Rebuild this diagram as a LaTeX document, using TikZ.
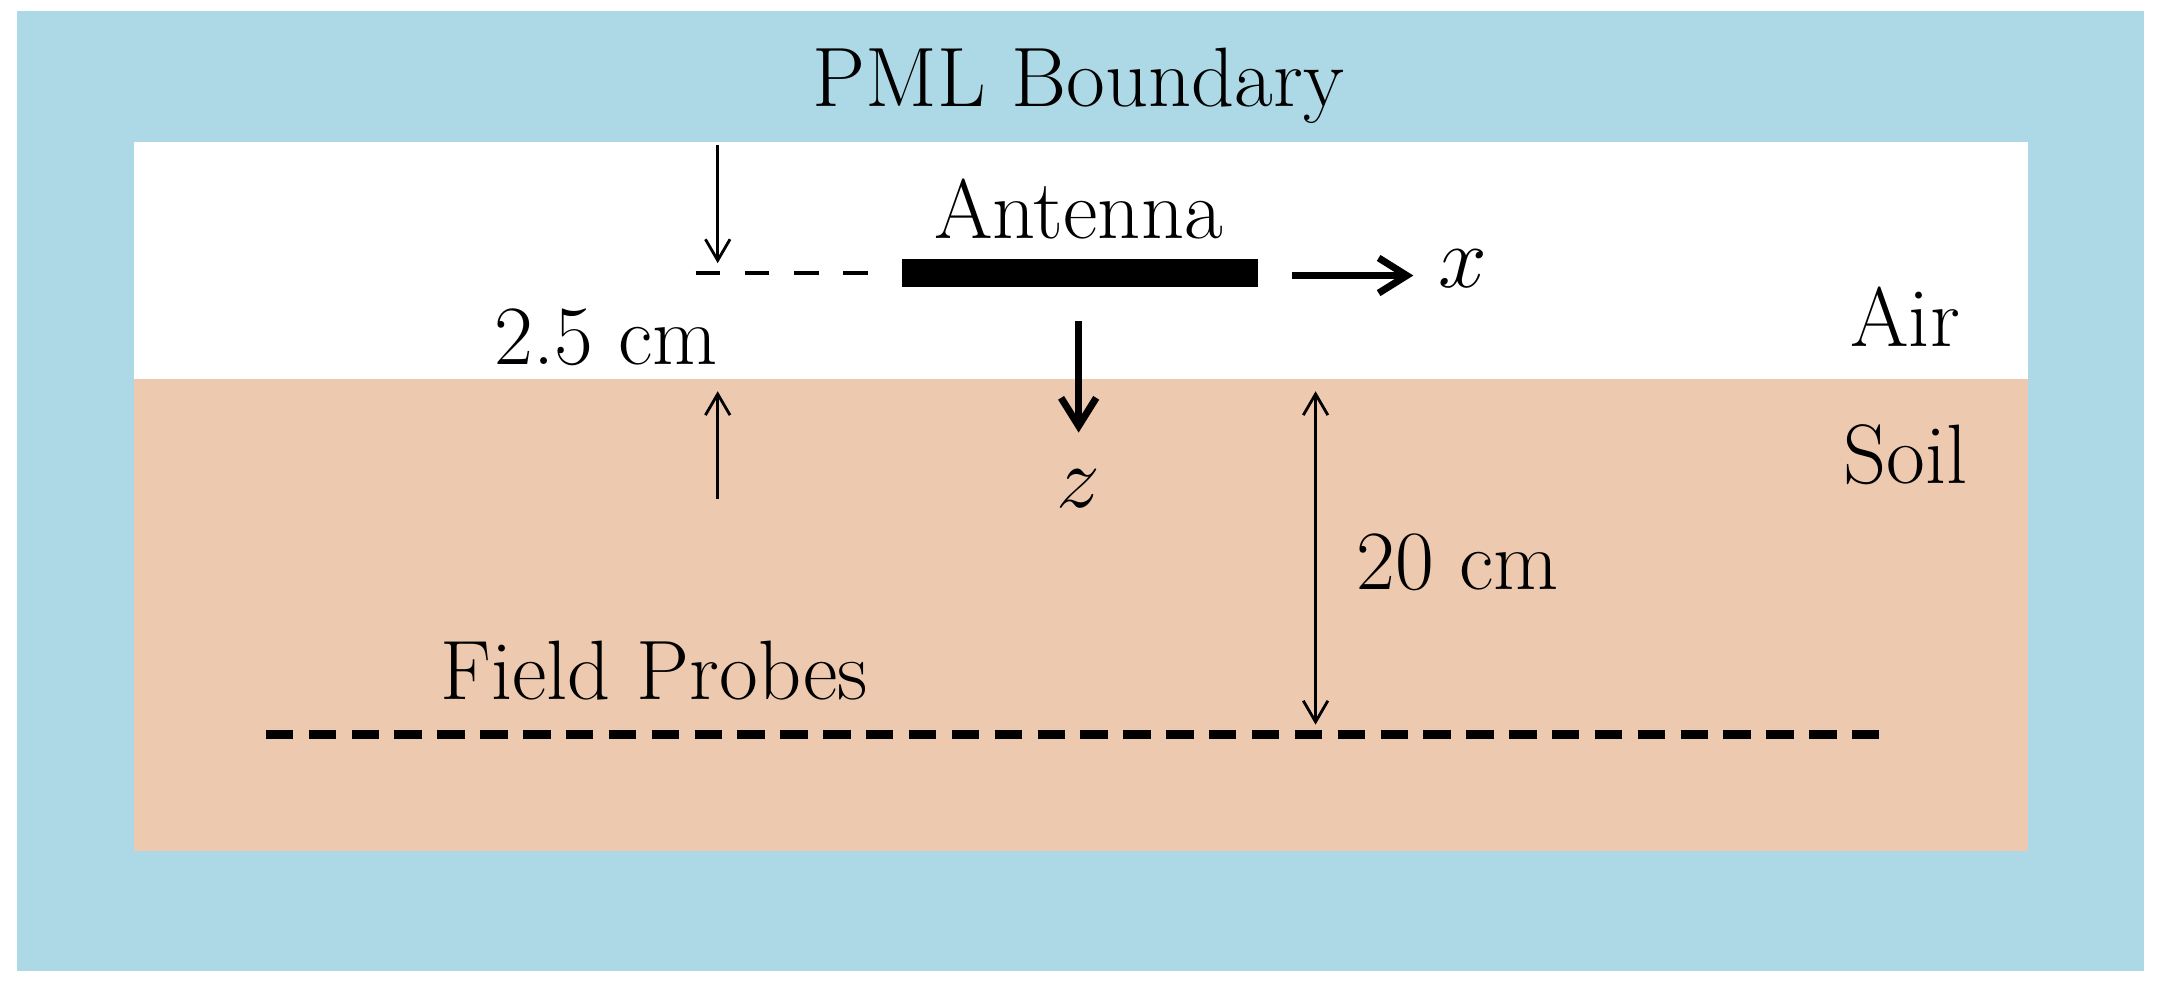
\documentclass[tikz,border=0pt]{standalone}
\usetikzlibrary{arrows.meta}
\definecolor{pml}{HTML}{ADD8E6}
\definecolor{soil}{HTML}{EDC9AF}
\begin{document}
\begin{tikzpicture}[x=0.013776cm,y=-0.013776cm,
  lbl/.style={font=\fontsize{24}{28}\selectfont,inner sep=0pt},
  thin arrow/.style={-{Straight Barb[length=6pt,width=7pt]},line width=0.8pt},
  thick arrow/.style={-{Straight Barb[length=8pt,width=10pt]},line width=2pt}]
\useasboundingbox (0,0) rectangle (1568,720);
\fill[pml] (12,8) rectangle (1556,705);
\fill[white] (97,103) rectangle (1472,275);
\fill[soil] (97,275) rectangle (1472,618);
\node[lbl] (pml) at (783,62) {PML Boundary};
\node[lbl] (ant) at (783,152) {Antenna};
\node[fill=black,minimum width=3.554cm,minimum height=0.2755cm,inner sep=0pt,outer sep=0pt] (bar) at (784,198) {};
\coordinate (d1) at (505,198); \coordinate (d2) at (632,198);
\draw[line width=1pt,dash pattern=on 7pt off 7pt] (d1) -- (d2);
\coordinate (a1) at (521,105); \coordinate (a2) at (521,191);
\draw[thin arrow] (a1) -- (a2);
\coordinate (b1) at (521,362); \coordinate (b2) at (521,284);
\draw[thin arrow] (b1) -- (b2);
\node[lbl] (cm25) at (440,245) {2.5 cm};
\coordinate (x1) at (938,200); \coordinate (x2) at (1026,200);
\draw[thick arrow] (x1) -- (x2);
\node[lbl] (xl) at (1062,195) {$x$};
\coordinate (z1) at (783,233); \coordinate (z2) at (783,314);
\draw[thick arrow] (z1) -- (z2);
\node[lbl] (zl) at (783,355) {$z$};
\node[lbl] (air) at (1383,230) {Air};
\node[lbl] (soilt) at (1383,330) {Soil};
\coordinate (t1) at (955,284); \coordinate (t2) at (955,526);
\draw[{Straight Barb[length=6pt,width=7pt]}-{Straight Barb[length=6pt,width=7pt]},line width=0.8pt] (t1) -- (t2);
\node[lbl] (cm20) at (1058,408) {20 cm};
\coordinate (p1) at (193,533); \coordinate (p2) at (1370,533);
\draw[line width=2.6pt,dash pattern=on 7.8pt off 4.4pt] (p1) -- (p2);
\node[lbl] (fp) at (475,487) {Field Probes};
\end{tikzpicture}
\end{document}
